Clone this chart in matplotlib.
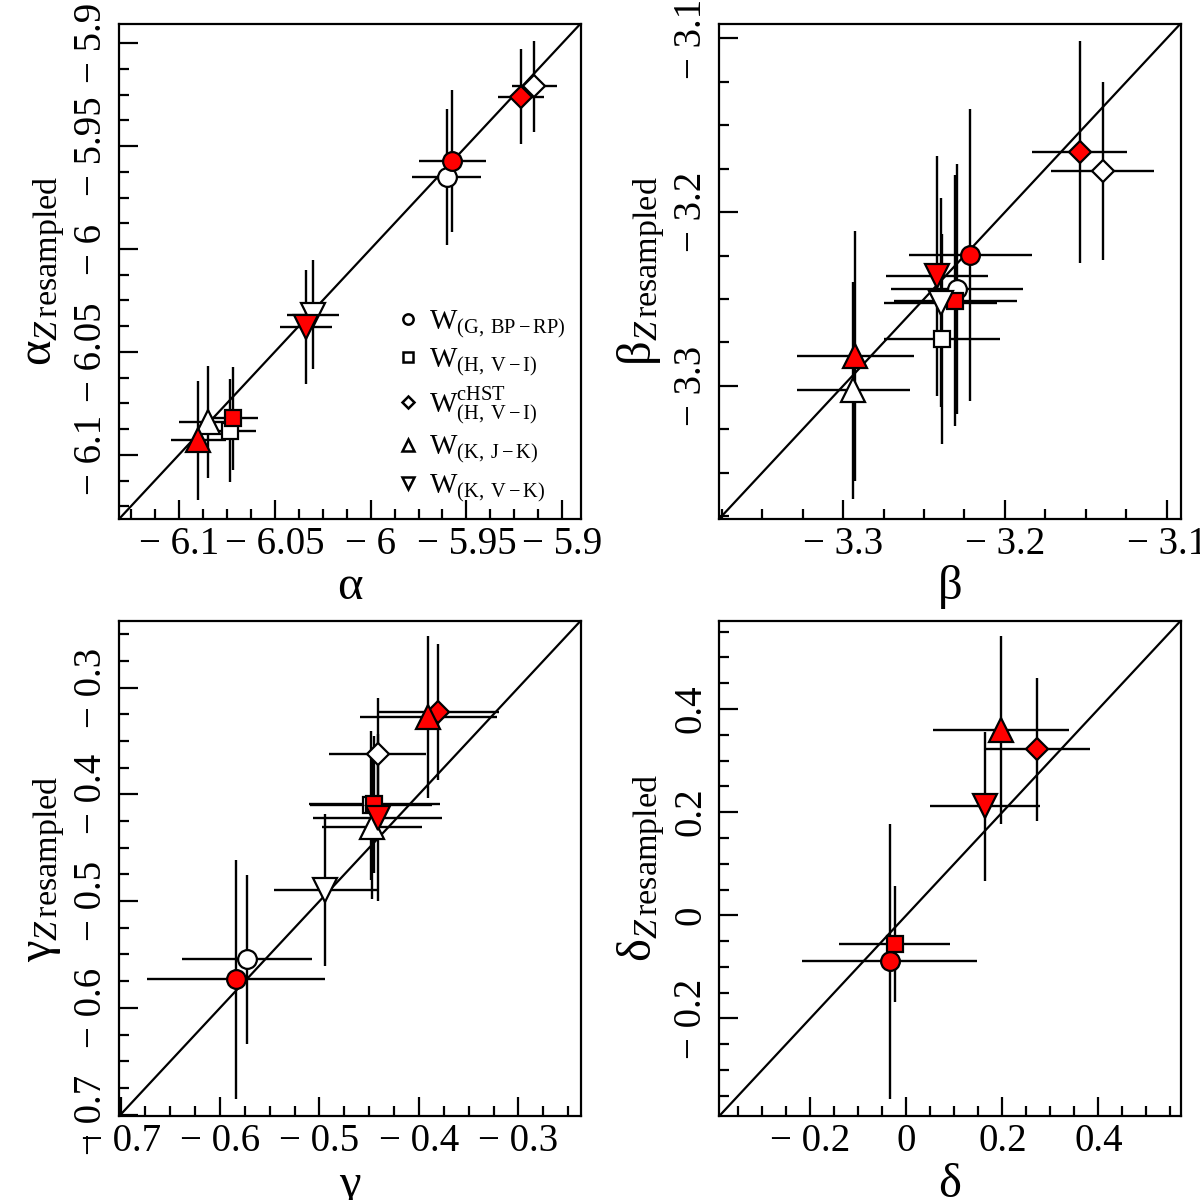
import numpy as np
import matplotlib
matplotlib.use('Agg')
import matplotlib.pyplot as plt
from matplotlib.ticker import AutoMinorLocator, FixedLocator, FuncFormatter
from matplotlib.lines import Line2D

plt.rcParams['font.family'] = ['Liberation Serif', 'DejaVu Serif']
plt.rcParams['mathtext.fontset'] = 'custom'
plt.rcParams['mathtext.rm'] = 'Liberation Serif'
plt.rcParams['mathtext.it'] = 'Liberation Serif:italic'
plt.rcParams['mathtext.bf'] = 'Liberation Serif:bold'

# marker order: W(G,BP-RP), W(H,V-I), W^cHST(H,V-I), W(K,J-K), W(K,V-K)
markers = ['o', 's', 'D', '^', 'v']
msizes = [13.5, 12, 11, 17, 17]
legend_labels = [r'W$_{\rm (G,\;BP-RP)}$', r'W$_{\rm (H,\;V-I)}$',
                 r'W$^{\rm cHST}_{\rm (H,\;V-I)}$', r'W$_{\rm (K,\;J-K)}$',
                 r'W$_{\rm (K,\;V-K)}$']

# alpha
alpha_white_x = [-5.9604, -6.0735, -5.9147, -6.0849, -6.0301]
alpha_white_y = [-5.9650, -6.0883, -5.9210, -6.0840, -6.0320]
alpha_white_xerr = [0.0179, 0.0137, 0.0118, 0.0152, 0.0134]
alpha_white_yerr = [0.0329, 0.0250, 0.0220, 0.0274, 0.0265]
alpha_red_x = [-5.9574, -6.0719, -5.9217, -6.0898, -6.0337]
alpha_red_y = [-5.9572, -6.0823, -5.9260, -6.0929, -6.0381]
alpha_red_xerr = [0.0174, 0.0132, 0.0120, 0.0145, 0.0134]
alpha_red_yerr = [0.0344, 0.0250, 0.0232, 0.0290, 0.0277]
alpha_lim = (-6.131, -5.8905)
alpha_ticks = [-6.1, -6.05, -6.0, -5.95, -5.9]

# beta
beta_white_x = [-3.2298, -3.2390, -3.1397, -3.2936, -3.2397]
beta_white_y = [-3.2443, -3.2729, -3.1764, -3.3026, -3.2520]
beta_white_xerr = [0.0408, 0.0360, 0.0316, 0.0350, 0.0350]
beta_white_yerr = [0.0720, 0.0606, 0.0514, 0.0626, 0.0600]
beta_red_x = [-3.2215, -3.2307, -3.1539, -3.2924, -3.2421]
beta_red_y = [-3.2249, -3.2509, -3.1654, -3.2828, -3.2366]
beta_red_xerr = [0.0380, 0.0380, 0.0296, 0.0360, 0.0314]
beta_red_yerr = [0.0840, 0.0720, 0.0640, 0.0720, 0.0690]
beta_lim = (-3.3764, -3.0915)
beta_ticks = [-3.3, -3.2, -3.1]

# gamma
gamma_white_x = [-0.5731, -0.4481, -0.4415, -0.4473, -0.4942]
gamma_white_y = [-0.5543, -0.4104, -0.3626, -0.4309, -0.4896]
gamma_white_xerr = [0.0654, 0.0615, 0.0490, 0.0500, 0.0520]
gamma_white_yerr = [0.0791, 0.0700, 0.0529, 0.0674, 0.0710]
gamma_red_x = [-0.5838, -0.4450, -0.3808, -0.3904, -0.4415]
gamma_red_y = [-0.5734, -0.4094, -0.3230, -0.3277, -0.4219]
gamma_red_xerr = [0.0894, 0.0658, 0.0608, 0.0688, 0.0650]
gamma_red_yerr = [0.1119, 0.0640, 0.0638, 0.0759, 0.0780]
gamma_lim = (-0.7012, -0.2375)
gamma_ticks = [-0.7, -0.6, -0.5, -0.4, -0.3]

# delta (no white points)
delta_red_x = [-0.0344, -0.0240, 0.2720, 0.1976, 0.1640]
delta_red_y = [-0.0889, -0.0556, 0.3222, 0.3593, 0.2111]
delta_red_xerr = [0.1820, 0.1150, 0.1108, 0.1420, 0.1140]
delta_red_yerr = [0.2667, 0.1126, 0.1385, 0.1815, 0.1444]
delta_lim = (-0.389, 0.571)
delta_ticks = [-0.2, 0.0, 0.2, 0.4]


def tick_fmt(v, pos=None):
    if abs(v) < 1e-9:
        return '0'
    s = f'{abs(v):g}'
    return '\u2212 ' + s if v < 0 else s


def draw_panel(ax, white, red, lim, ticks, sym):
    ax.plot(lim, lim, color='k', lw=1.6, zorder=1)
    for i, m in enumerate(markers):
        for pts, fc in ((white, 'white'), (red, 'red')):
            if pts is None:
                continue
            x, y, xe, ye = pts
            ax.errorbar(x[i], y[i], xerr=xe[i], yerr=ye[i], fmt=m,
                        ms=msizes[i], mfc=fc, mec='k', mew=1.6,
                        ecolor='k', elinewidth=1.7, capsize=0, zorder=2)
    ax.set_xlim(lim)
    ax.set_ylim(lim)
    for axis in (ax.xaxis, ax.yaxis):
        axis.set_major_locator(FixedLocator(ticks))
        axis.set_major_formatter(FuncFormatter(tick_fmt))
        axis.set_minor_locator(AutoMinorLocator(4))
    ax.tick_params(which='both', direction='in', top=False, right=False,
                   width=1.6, labelsize=28)
    ax.tick_params(which='major', length=14)
    ax.tick_params(which='minor', length=7)
    ax.tick_params(axis='x', pad=5)
    ax.tick_params(axis='y', pad=7, labelrotation=90)
    for lab in ax.get_yticklabels():
        lab.set_va('center')
    for sp in ax.spines.values():
        sp.set_linewidth(1.6)
    ax.set_xlabel(sym, fontsize=35, labelpad=2)
    ax.set_ylabel(sym + r'$_{Z\,\mathrm{resampled}}$', fontsize=35, labelpad=4)


fig = plt.figure(figsize=(12, 12), dpi=100)
w, h = 0.3843, 0.4125
ax1 = fig.add_axes([0.0995, 0.5678, w, h])
ax2 = fig.add_axes([0.5995, 0.5678, w, h])
ax3 = fig.add_axes([0.0995, 0.0701, w, h])
ax4 = fig.add_axes([0.5995, 0.0701, w, h])

draw_panel(ax1, (alpha_white_x, alpha_white_y, alpha_white_xerr, alpha_white_yerr),
           (alpha_red_x, alpha_red_y, alpha_red_xerr, alpha_red_yerr),
           alpha_lim, alpha_ticks, '\u03b1')
draw_panel(ax2, (beta_white_x, beta_white_y, beta_white_xerr, beta_white_yerr),
           (beta_red_x, beta_red_y, beta_red_xerr, beta_red_yerr),
           beta_lim, beta_ticks, '\u03b2')
draw_panel(ax3, (gamma_white_x, gamma_white_y, gamma_white_xerr, gamma_white_yerr),
           (gamma_red_x, gamma_red_y, gamma_red_xerr, gamma_red_yerr),
           gamma_lim, gamma_ticks, '\u03b3')
draw_panel(ax4, None, (delta_red_x, delta_red_y, delta_red_xerr, delta_red_yerr),
           delta_lim, delta_ticks, '\u03b4')

handles = [Line2D([], [], ls='none', marker=m, ms=s * 0.55, mfc='white',
                  mec='k', mew=1.8) for m, s in zip(markers, msizes)]
ax1.legend(handles, legend_labels, loc='lower right', frameon=False,
           fontsize=21, handlelength=0.8, handletextpad=0.35,
           labelspacing=0.25, borderaxespad=0.1)

fig.savefig('out.png', dpi=100)
